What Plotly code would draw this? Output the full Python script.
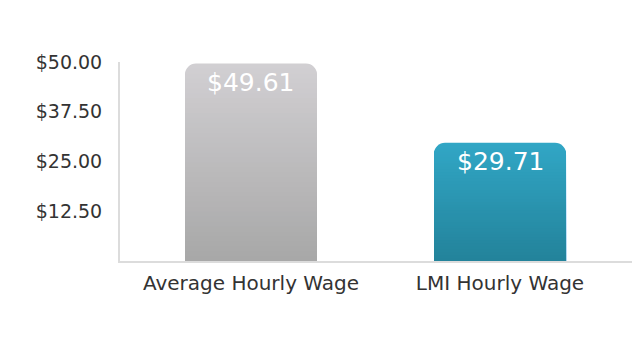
import plotly.graph_objects as go

categories = ["Average Hourly Wage", "LMI Hourly Wage"]
values = [49.61, 29.71]
value_labels = ["$49.61", "$29.71"]
tick_values = [12.5, 25.0, 37.5, 50.0]
tick_labels = ["$12.50", "$25.00", "$37.50", "$50.00"]

top_colors = [(209, 207, 210), (49, 166, 197)]
bottom_colors = [(168, 168, 168), (35, 131, 155)]

def mix(c1, c2, t):
    return "rgb(%d,%d,%d)" % tuple(round(a + (b - a) * t) for a, b in zip(c1, c2))

FONT = "DejaVu Sans"

fig = go.Figure()
N = 40
for k in range(N):
    frac = 1 - k / N
    fig.add_trace(go.Bar(
        x=categories, y=[v * frac for v in values], width=0.53,
        marker=dict(color=[mix(t, b, k / (N - 1)) for t, b in zip(top_colors, bottom_colors)],
                    line=dict(width=0), cornerradius=11),
        hoverinfo="skip", showlegend=False))

for c, v, lab in zip(categories, values, value_labels):
    fig.add_annotation(x=c, y=v, text=lab, showarrow=False, yanchor="top", yshift=-2,
                       font=dict(family=FONT, size=25, color="white"))

fig.update_layout(
    barmode="overlay",
    width=641, height=358,
    margin=dict(l=120, r=9, t=62, b=97),
    paper_bgcolor="white", plot_bgcolor="white",
    font=dict(family=FONT, color="#333333"),
    xaxis=dict(range=[-0.526, 1.53], showline=True, linecolor="#dcdcdc", linewidth=2,
               showgrid=False, ticks="", tickfont=dict(size=20), ticklabelstandoff=3),
    yaxis=dict(range=[0, 50], showline=True, linecolor="#dcdcdc", linewidth=2,
               showgrid=False, zeroline=False, tickvals=tick_values, ticktext=tick_labels,
               ticks="", tickfont=dict(size=19), ticklabelstandoff=12),
)

fig.write_html("out.html")
